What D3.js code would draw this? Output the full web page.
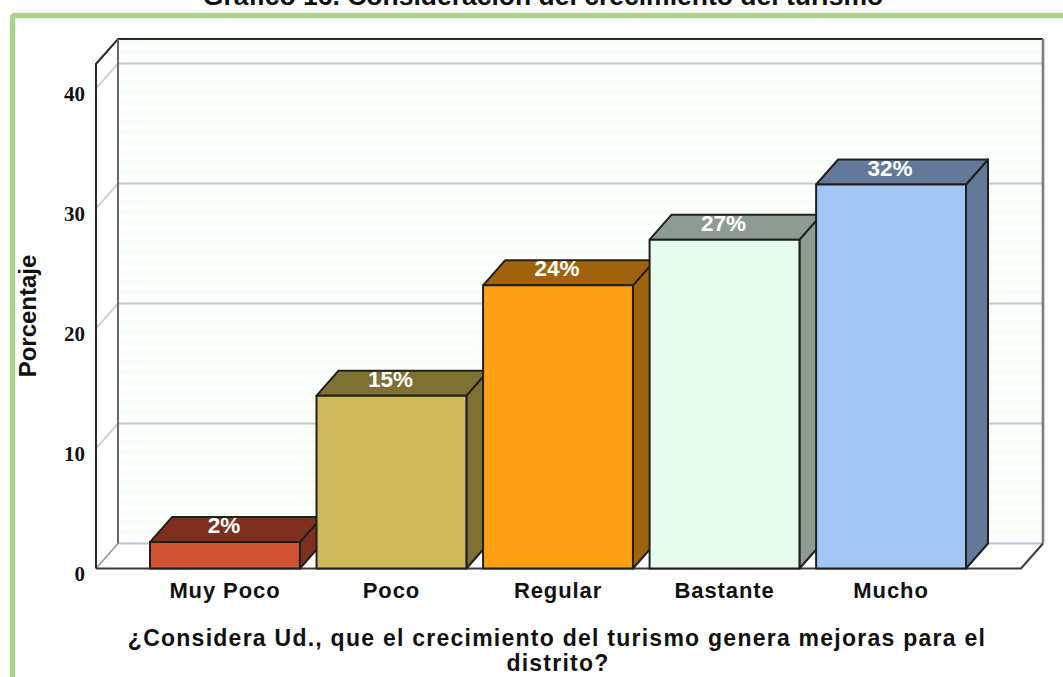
<!DOCTYPE html>
<html>
<head>
<meta charset="utf-8">
<script src="https://cdn.jsdelivr.net/npm/d3@7"></script>
<style>
  html, body { margin: 0; padding: 0; background: #fff; overflow: hidden; }
  text { font-family: "Liberation Sans", Arial, sans-serif; font-weight: bold; fill: #111; }
</style>
</head>
<body>
<div id="chart"></div>
<script>
const categories = ["Muy Poco", "Poco", "Regular", "Bastante", "Mucho"];
const values = [2.2, 14.4, 23.6, 27.4, 32.0];
const valueLabels = ["2%", "15%", "24%", "27%", "32%"];
const frontColors = ["#d15232", "#cfb95b", "#ff9f14", "#e6fdee", "#a2c6f6"];
const topColors = ["#7e2f1d", "#7f7033", "#a0630b", "#8d9c90", "#63799a"];
const yTicks = [0, 10, 20, 30, 40];

const width = 1063;
const height = 677;
// depth of the fake 3D box
const depthX = 22;
const depthY = -25;
const boxLeft = 96, boxRight = 1021, boxBottom = 568.5, boxTop = 64;

const svg = d3.select("#chart")
  .append("svg")
  .attr("width", width)
  .attr("height", height)
  .style("display", "block");

// striped back wall
const pattern = svg.append("defs").append("pattern")
  .attr("id", "stripes")
  .attr("patternUnits", "userSpaceOnUse")
  .attr("width", 10)
  .attr("height", 10);
pattern.append("rect").attr("width", 10).attr("height", 10).attr("fill", "#ffffff");
pattern.append("rect").attr("width", 10).attr("height", 5).attr("fill", "#f5fff8");

// green frame, runs off the right and bottom of the picture
svg.append("rect")
  .attr("x", 12.5).attr("y", 15.5)
  .attr("width", 1200).attr("height", 900)
  .attr("rx", 2)
  .attr("fill", "none")
  .attr("stroke", "#a9d48e")
  .attr("stroke-width", 5.5);

svg.append("text")
  .attr("x", 543).attr("y", 5)
  .attr("text-anchor", "middle")
  .style("font-size", "26.5px")
  .text("Gráfico 16. Consideración del crecimiento del turismo");

// scales
const y = d3.scaleLinear().domain([0, 40]).range([boxBottom, 88.5]);
const x = d3.scaleBand().domain(categories).range([150, 966]).paddingInner(0.1);

// walls
svg.append("rect")
  .attr("x", boxLeft + depthX).attr("y", boxTop + depthY)
  .attr("width", boxRight - boxLeft)
  .attr("height", boxBottom - boxTop)
  .attr("fill", "url(#stripes)");

const grid = svg.append("g");
grid.selectAll("line.back")
  .data(yTicks.slice(1))
  .enter().append("line")
  .attr("class", "back")
  .attr("x1", boxLeft + depthX).attr("x2", boxRight + depthX)
  .attr("y1", d => y(d) + depthY).attr("y2", d => y(d) + depthY)
  .attr("stroke", "#cacaca").attr("stroke-width", 1.8);
grid.selectAll("line.side")
  .data(yTicks)
  .enter().append("line")
  .attr("class", "side")
  .attr("x1", boxLeft).attr("x2", boxLeft + depthX)
  .attr("y1", d => y(d)).attr("y2", d => y(d) + depthY)
  .attr("stroke", d => d === 0 ? "#9a9a9a" : "#cacaca").attr("stroke-width", 1.8);

// floor back edge
svg.append("line")
  .attr("x1", boxLeft + depthX).attr("x2", boxRight + depthX)
  .attr("y1", boxBottom + depthY).attr("y2", boxBottom + depthY)
  .attr("stroke", "#c4c4c4").attr("stroke-width", 2.2);

// box outlines
const outline = svg.append("g").attr("fill", "none");
outline.append("path")
  .attr("d", `M${boxLeft},${boxBottom}V${boxTop}L${boxLeft + depthX},${boxTop + depthY}H${boxRight + depthX}`)
  .attr("stroke", "#2a2a2a").attr("stroke-width", 2);
outline.append("path")
  .attr("d", `M${boxLeft + depthX},${boxTop + depthY}V${boxBottom + depthY}`)
  .attr("stroke", "#666").attr("stroke-width", 2);
outline.append("path")
  .attr("d", `M${boxRight + depthX},${boxTop + depthY}V${boxBottom + depthY}`)
  .attr("stroke", "#7f7f7f").attr("stroke-width", 2.6);
outline.append("path")
  .attr("d", `M${boxRight + depthX},${boxBottom + depthY}L${boxRight},${boxBottom}H${boxLeft}`)
  .attr("stroke", "#3a3a3a").attr("stroke-width", 2);

// bars
const bars = svg.selectAll("g.bar")
  .data(categories)
  .enter().append("g")
  .attr("class", "bar");

bars.each(function(c, i) {
  const g = d3.select(this);
  const x0 = x(c), x1 = x(c) + x.bandwidth(), yt = y(values[i]);
  g.append("path")
    .attr("d", `M${x1},${yt}L${x1 + depthX},${yt + depthY}V${boxBottom + depthY}L${x1},${boxBottom}Z`)
    .attr("fill", topColors[i]);
  g.append("path")
    .attr("d", `M${x0},${yt}L${x0 + depthX},${yt + depthY}H${x1 + depthX}L${x1},${yt}Z`)
    .attr("fill", topColors[i]);
  g.append("rect")
    .attr("x", x0).attr("y", yt)
    .attr("width", x.bandwidth()).attr("height", boxBottom - yt)
    .attr("fill", frontColors[i]);
  g.selectAll("path,rect")
    .attr("stroke", "#20201e").attr("stroke-width", 2).attr("stroke-linejoin", "round");
  g.append("text")
    .attr("x", x0 + x.bandwidth() / 2 - 1)
    .attr("y", yt - 9)
    .attr("text-anchor", "middle")
    .style("font-size", "22.5px")
    .style("fill", "#fff")
    .text(valueLabels[i]);
});

// axes, text only: the box lines are already drawn
const yAxis = svg.append("g")
  .attr("transform", `translate(${boxLeft},5)`)
  .call(d3.axisLeft(y).tickValues(yTicks).tickSize(0).tickPadding(11));
yAxis.select(".domain").remove();
yAxis.selectAll("text")
  .style("font-family", '"Liberation Serif", serif')
  .style("font-size", "21px");

const xAxis = svg.append("g")
  .attr("transform", `translate(0,${boxBottom})`)
  .call(d3.axisBottom(x).tickSize(0).tickPadding(14));
xAxis.select(".domain").remove();
xAxis.selectAll("text")
  .style("font-size", "22px")
  .style("letter-spacing", "0.9px");

svg.append("text")
  .attr("transform", "translate(36,316) rotate(-90)")
  .attr("text-anchor", "middle")
  .style("font-size", "24px")
  .text("Porcentaje");

const xTitle = svg.append("text")
  .attr("text-anchor", "middle")
  .style("font-size", "23px")
  .style("letter-spacing", "1.25px");
xTitle.append("tspan").attr("x", 557).attr("y", 646)
  .text("¿Considera Ud., que el crecimiento del turismo genera mejoras para el");
xTitle.append("tspan").attr("x", 558).attr("y", 671)
  .text("distrito?");
</script>
</body>
</html>
